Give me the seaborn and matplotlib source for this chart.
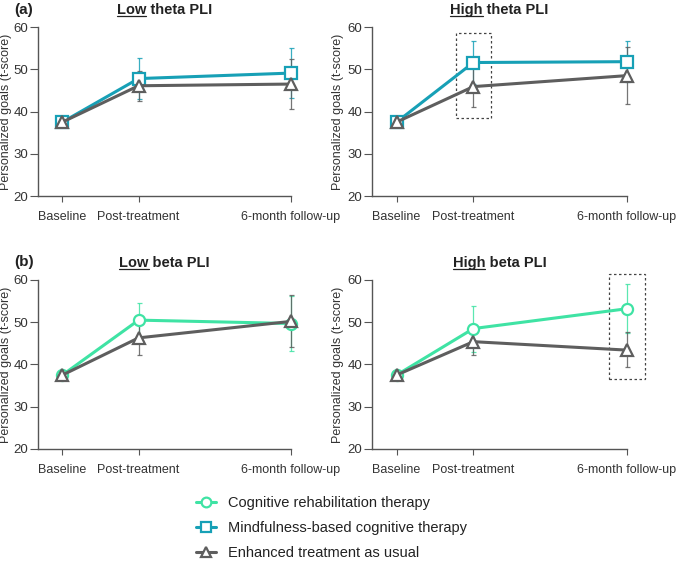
import numpy as np
import pandas as pd
import matplotlib
matplotlib.use("Agg")
import matplotlib.pyplot as plt
from matplotlib.lines import Line2D
from matplotlib.patches import Rectangle
import seaborn as sns

# time points (x spacing follows the original: baseline, post, 6 months)
time_labels = ["Baseline", "Post-treatment", "6-month follow-up"]
time_x = [0, 1, 3]

groups = ["Cognitive rehabilitation therapy",
          "Mindfulness-based cognitive therapy",
          "Enhanced treatment as usual"]
colors = {"CRT": "#3fe3a4", "MBCT": "#17a0b6", "TAU": "#5e5e5e"}
markers = {"CRT": "o", "MBCT": "s", "TAU": "^"}

# (a) theta PLI
low_theta_mbct = [37.5, 47.8, 49.1]
low_theta_mbct_lo = [37.5, 43.0, 43.2]
low_theta_mbct_hi = [37.5, 52.7, 55.0]
low_theta_tau = [37.5, 46.1, 46.5]
low_theta_tau_lo = [37.5, 42.6, 40.7]
low_theta_tau_hi = [37.5, 49.6, 52.4]

high_theta_mbct = [37.5, 51.6, 51.8]
high_theta_mbct_lo = [37.5, 46.4, 47.1]
high_theta_mbct_hi = [37.5, 56.8, 56.6]
high_theta_tau = [37.5, 45.9, 48.5]
high_theta_tau_lo = [37.5, 41.1, 41.8]
high_theta_tau_hi = [37.5, 50.7, 55.2]

# (b) beta PLI
low_beta_crt = [37.5, 50.5, 49.7]
low_beta_crt_lo = [37.5, 46.6, 43.2]
low_beta_crt_hi = [37.5, 54.5, 56.3]
low_beta_tau = [37.5, 46.3, 50.2]
low_beta_tau_lo = [37.5, 42.2, 44.1]
low_beta_tau_hi = [37.5, 50.4, 56.4]

high_beta_crt = [37.5, 48.5, 53.2]
high_beta_crt_lo = [37.5, 43.0, 47.4]
high_beta_crt_hi = [37.5, 53.9, 59.0]
high_beta_tau = [37.5, 45.4, 43.4]
high_beta_tau_lo = [37.5, 42.3, 39.4]
high_beta_tau_hi = [37.5, 48.5, 47.6]

panels = [
    ("Low", "theta PLI", [("MBCT", low_theta_mbct, low_theta_mbct_lo, low_theta_mbct_hi),
                          ("TAU", low_theta_tau, low_theta_tau_lo, low_theta_tau_hi)]),
    ("High", "theta PLI", [("MBCT", high_theta_mbct, high_theta_mbct_lo, high_theta_mbct_hi),
                           ("TAU", high_theta_tau, high_theta_tau_lo, high_theta_tau_hi)]),
    ("Low", "beta PLI", [("CRT", low_beta_crt, low_beta_crt_lo, low_beta_crt_hi),
                         ("TAU", low_beta_tau, low_beta_tau_lo, low_beta_tau_hi)]),
    ("High", "beta PLI", [("CRT", high_beta_crt, high_beta_crt_lo, high_beta_crt_hi),
                          ("TAU", high_beta_tau, high_beta_tau_lo, high_beta_tau_hi)]),
]

# highlighted boxes: panel index, time index, y range
highlights = [(1, 1, 38.4, 58.7), (3, 2, 36.6, 61.3)]

sns.set_style("ticks")
plt.rcParams["font.family"] = ["Liberation Sans", "DejaVu Sans"]
ax_col = "#555555"
txt_col = "#333333"

fig = plt.figure(figsize=(6.76, 5.62), dpi=100)
rects = [[0.0562, 0.6512, 0.3743, 0.3007], [0.5503, 0.6512, 0.3772, 0.3007],
         [0.0562, 0.2011, 0.3743, 0.3007], [0.5503, 0.2011, 0.3772, 0.3007]]
axes = [fig.add_axes(r) for r in rects]

for i, (ax, (word, rest, series)) in enumerate(zip(axes, panels)):
    for key, mean, lo, hi in series:
        df = pd.DataFrame({"x": time_x, "y": mean})
        c = colors[key]
        yerr = [np.array(mean) - np.array(lo), np.array(hi) - np.array(mean)]
        eb = ax.errorbar(time_x, mean, yerr=yerr, fmt="none", ecolor=c, elinewidth=0.9,
                         capsize=1.8, capthick=0.9, alpha=0.85, zorder=2)
        for part in eb.lines[1] + eb.lines[2]:
            part.set_clip_on(False)
        sns.lineplot(data=df, x="x", y="y", ax=ax, color=c, lw=2.2,
                     marker=markers[key], markersize=8 if key != "TAU" else 9,
                     mfc="white", mec=c, mew=1.6, zorder=3)
    for line in ax.lines:
        line.set_clip_on(False)
    ax.set_xlim(-0.32, 3.0)
    ax.set_ylim(20, 60)
    ax.set_yticks([20, 30, 40, 50, 60])
    ax.set_xticks(time_x)
    ax.set_xticklabels(time_labels)
    ax.set_xlabel("")
    ax.set_ylabel("Personalized goals (t-score)", fontsize=9, color=txt_col)
    ax.yaxis.set_label_coords(-0.11 if i % 2 else -0.103, 0.5)
    sns.despine(ax=ax)
    for s in ["left", "bottom"]:
        ax.spines[s].set_color(ax_col)
        ax.spines[s].set_linewidth(1.0)
    ax.tick_params(axis="y", length=6, pad=1, labelsize=9.5, colors=ax_col, labelcolor=txt_col)
    ax.tick_params(axis="x", length=4, pad=7, labelsize=9, colors=ax_col, labelcolor=txt_col)
    ax.grid(False)
    t = ax.text(0.5, 1.10, word + " " + rest, transform=ax.transAxes, ha="center",
                va="center", fontsize=10.5, fontweight="bold", color="#222222")
    t.set_gid(word)

for pi, ti, y0, y1 in highlights:
    ax = axes[pi]
    ax.add_patch(Rectangle((time_x[ti] - 0.23, y0), 0.46, y1 - y0, fill=False,
                           ls=(0, (2, 2)), lw=0.9, ec="#444444", clip_on=False, zorder=1))

fig.text(24 / 676, 1 - 10 / 562, "(a)", ha="center", va="center", fontsize=11,
         fontweight="bold", color="#222222")
fig.text(24 / 676, 1 - 262 / 562, "(b)", ha="center", va="center", fontsize=11,
         fontweight="bold", color="#222222")

# underline the first word of each panel title
fig.canvas.draw()
r = fig.canvas.get_renderer()
inv = fig.transFigure.inverted()
for ax, (word, rest, series) in zip(axes, panels):
    title = [t for t in ax.texts if t.get_gid() == word][0]
    bb = title.get_window_extent(r)
    tmp = fig.text(0, 0, word, fontsize=10.5, fontweight="bold")
    w = tmp.get_window_extent(r).width
    tmp.remove()
    (x0, y0), (x1, _) = inv.transform([(bb.x0, bb.y0 + 1), (bb.x0 + w, bb.y0 + 1)])
    fig.add_artist(Line2D([x0, x1], [y0, y0], color="#222222", lw=0.9))

handles = [Line2D([], [], color=colors[k], marker=markers[k], mfc="white", mec=colors[k],
                  mew=1.6, lw=2.2, markersize=7) for k in ["CRT", "MBCT", "TAU"]]
fig.legend(handles, groups, loc="center left", bbox_to_anchor=(196 / 676, 1 - 528 / 562),
           frameon=False, fontsize=10.5, handlelength=1.4, handletextpad=0.8,
           labelspacing=0.75, borderpad=0, borderaxespad=0, labelcolor="#222222")

fig.savefig("out.png", dpi=100)
